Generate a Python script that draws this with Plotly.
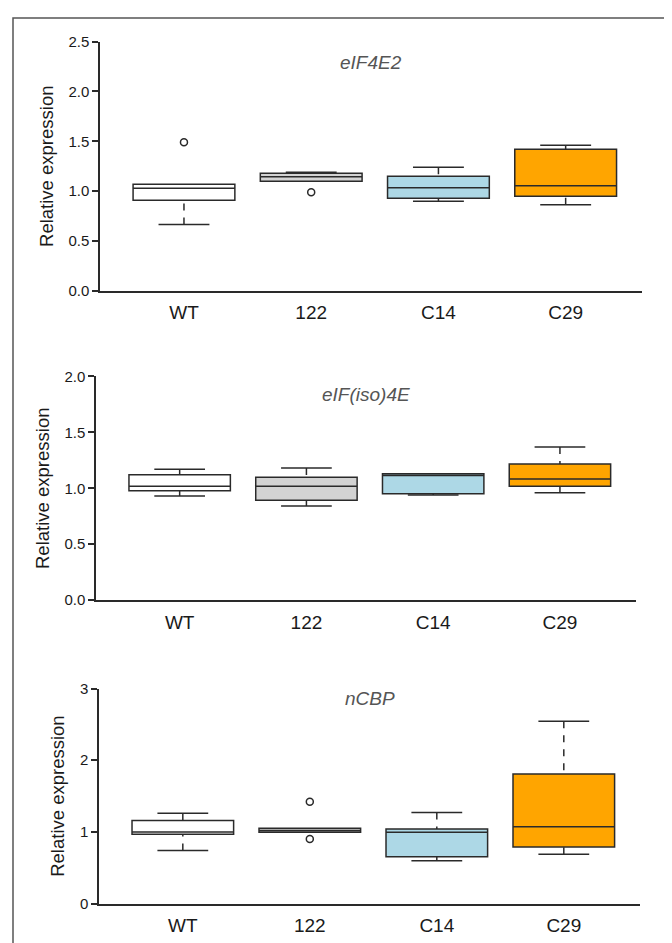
import plotly.graph_objects as go

categories = ["WT", "122", "C14", "C29"]
positions = [1, 2, 3, 4]
fill_colors = ["#ffffff", "#d3d3d3", "#add8e6", "#ffa500"]

panel_titles = ["eIF4E2", "eIF(iso)4E", "nCBP"]

# panel 1: eIF4E2
p1_q1 = [0.91, 1.10, 0.93, 0.95]
p1_med = [1.03, 1.145, 1.035, 1.055]
p1_q3 = [1.07, 1.18, 1.15, 1.42]
p1_lo = [0.665, 1.10, 0.90, 0.865]
p1_hi = [1.07, 1.19, 1.24, 1.46]
p1_out_x = [1, 2]
p1_out_y = [1.49, 0.99]

# panel 2: eIF(iso)4E
p2_q1 = [0.977, 0.892, 0.950, 1.018]
p2_med = [1.018, 1.018, 1.114, 1.082]
p2_q3 = [1.120, 1.099, 1.129, 1.216]
p2_lo = [0.930, 0.842, 0.939, 0.959]
p2_hi = [1.170, 1.181, 1.129, 1.368]
p2_out_x = []
p2_out_y = []

# panel 3: nCBP
p3_q1 = [0.968, 0.995, 0.653, 0.790]
p3_med = [1.000, 1.018, 0.995, 1.073]
p3_q3 = [1.160, 1.050, 1.041, 1.808]
p3_lo = [0.740, 0.995, 0.598, 0.689]
p3_hi = [1.260, 1.050, 1.270, 2.544]
p3_out_x = [2, 2]
p3_out_y = [1.42, 0.90]

y_ranges = [[0, 2.5], [0, 2.0], [0, 3]]
y_dticks = [0.5, 0.5, 1]
y_formats = [".1f", ".1f", "d"]

OFF = 8  # browser default body margin
W, H = 672 - OFF, 943 - OFF
# pixel layout of each panel in the page: (x_left, x_right, y_top, y_bottom)
panel_px = [(100, 642, 33, 287), (96, 636, 374, 602), (99, 640, 692, 911)]
title_ydom = [0.917, 0.92, 0.954]

FONT = "Liberation Sans Narrow, Arial Narrow, Liberation Sans, Arial, sans-serif"
LINE = "#2a2a2a"

panels = [
    (p1_q1, p1_med, p1_q3, p1_lo, p1_hi, p1_out_x, p1_out_y),
    (p2_q1, p2_med, p2_q3, p2_lo, p2_hi, p2_out_x, p2_out_y),
    (p3_q1, p3_med, p3_q3, p3_lo, p3_hi, p3_out_x, p3_out_y),
]

fig = go.Figure()
layout_axes = {}
annotations = []
box_w = 0.8
cap_w = 0.4

for i, (q1, med, q3, lo, hi, ox, oy) in enumerate(panels):
    n = i + 1
    xa = "x" if n == 1 else f"x{n}"
    ya = "y" if n == 1 else f"y{n}"
    xl, xr, yt, yb = panel_px[i]
    layout_axes["xaxis" if n == 1 else f"xaxis{n}"] = dict(
        domain=[(xl - OFF) / W, (xr - OFF) / W], anchor=ya, range=[0.34, 4.6],
        tickmode="array", tickvals=positions, ticktext=categories,
        showline=True, linecolor=LINE, linewidth=1.5, ticks="",
        showgrid=False, zeroline=False, ticklabelstandoff=4,
        tickfont=dict(family=FONT, size=19, color="#1a1a1a"),
    )
    layout_axes["yaxis" if n == 1 else f"yaxis{n}"] = dict(
        domain=[1 - (yb - OFF) / H, 1 - (yt - OFF) / H], anchor=xa, range=y_ranges[i],
        dtick=y_dticks[i], tickformat=y_formats[i],
        showline=True, linecolor=LINE, linewidth=1.5,
        ticks="outside", ticklen=6, tickwidth=1.5, tickcolor=LINE,
        showgrid=False, zeroline=False,
        tickfont=dict(family=FONT, size=15, color="#1a1a1a"),
        title=dict(text="Relative expression", standoff=10,
                   font=dict(family=FONT, size=18.5, color="#1a1a1a")),
    )
    for j in range(4):
        fig.add_trace(go.Box(
            x=[positions[j]], q1=[q1[j]], median=[med[j]], q3=[q3[j]],
            lowerfence=[q1[j]], upperfence=[q3[j]],
            width=box_w, whiskerwidth=0, fillcolor=fill_colors[j],
            line=dict(color=LINE, width=1.5), boxpoints=False,
            hoverinfo="skip", showlegend=False, xaxis=xa, yaxis=ya,
        ))
        # whiskers (dashed) and caps (solid)
        for fence, edge in ((lo[j], q1[j]), (hi[j], q3[j])):
            if abs(fence - edge) > 1e-9:
                fig.add_trace(go.Scatter(
                    x=[positions[j], positions[j]], y=[fence, edge], mode="lines",
                    line=dict(color=LINE, width=1.5, dash="7px,7px"),
                    hoverinfo="skip", showlegend=False, xaxis=xa, yaxis=ya,
                ))
                fig.add_trace(go.Scatter(
                    x=[positions[j] - cap_w / 2, positions[j] + cap_w / 2],
                    y=[fence, fence], mode="lines",
                    line=dict(color=LINE, width=1.5),
                    hoverinfo="skip", showlegend=False, xaxis=xa, yaxis=ya,
                ))
    if ox:
        fig.add_trace(go.Scatter(
            x=ox, y=oy, mode="markers",
            marker=dict(symbol="circle-open", size=7, color=LINE, line=dict(width=1.5)),
            hoverinfo="skip", showlegend=False, xaxis=xa, yaxis=ya,
        ))
    annotations.append(dict(
        text=f"<i>{panel_titles[i]}</i>", xref=f"{xa} domain", yref=f"{ya} domain",
        x=0.5, y=title_ydom[i], xanchor="center", yanchor="middle", showarrow=False,
        font=dict(family=FONT, size=19, color="#555555"),
    ))

fig.update_layout(
    width=W, height=H, margin=dict(l=0, r=0, t=0, b=0),
    paper_bgcolor="white", plot_bgcolor="white",
    annotations=annotations,
    shapes=[dict(type="rect", xref="paper", yref="paper",
                 x0=(13 - OFF) / W, x1=(670 - OFF) / W, y0=-0.05, y1=1 - (9 - OFF) / H,
                 line=dict(color="#555555", width=1.5))],
    **layout_axes,
)

fig.write_html("out.html")
